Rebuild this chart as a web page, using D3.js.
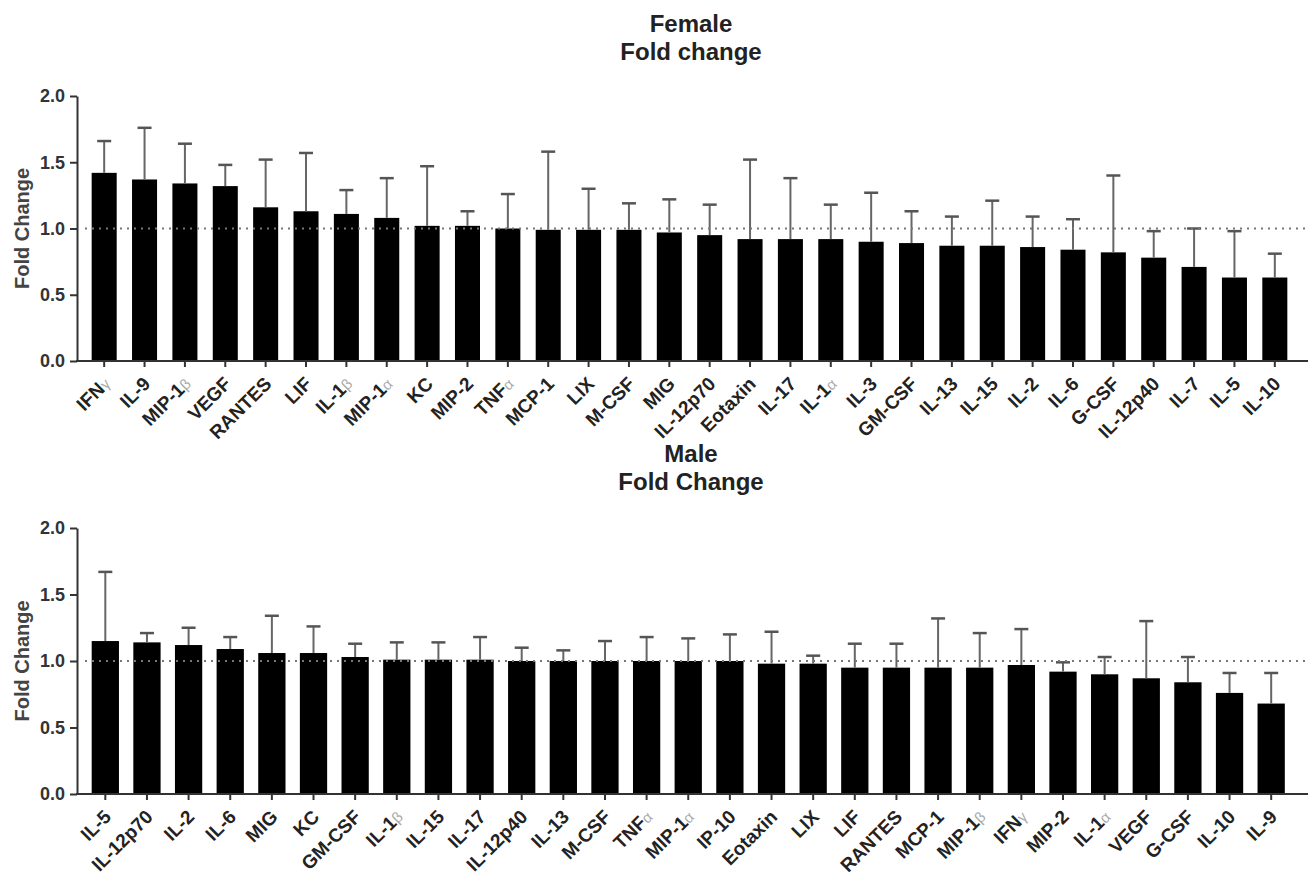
<!DOCTYPE html>
<html>
<head>
<meta charset="utf-8">
<script src="https://cdn.jsdelivr.net/npm/d3@7"></script>
<style>
  body { margin: 0; background: #fff; }
  svg text { font-family: "Liberation Sans", Arial, sans-serif; }
</style>
</head>
<body>
<svg id="chart" width="1314" height="876"></svg>
<script>
"use strict";
// female panel
const femaleNames = ['IFNγ','IL-9','MIP-1β','VEGF','RANTES','LIF','IL-1β','MIP-1α','KC','MIP-2',
  'TNFα','MCP-1','LIX','M-CSF','MIG','IL-12p70','Eotaxin','IL-17','IL-1α','IL-3',
  'GM-CSF','IL-13','IL-15','IL-2','IL-6','G-CSF','IL-12p40','IL-7','IL-5','IL-10'];
const femaleMean = [1.42,1.37,1.34,1.32,1.16,1.13,1.11,1.08,1.02,1.02,
  1.00,0.99,0.99,0.99,0.97,0.95,0.92,0.92,0.92,0.90,
  0.89,0.87,0.87,0.86,0.84,0.82,0.78,0.71,0.63,0.63];
const femaleUpper = [1.66,1.76,1.64,1.48,1.52,1.57,1.29,1.38,1.47,1.13,
  1.26,1.58,1.30,1.19,1.22,1.18,1.52,1.38,1.18,1.27,
  1.13,1.09,1.21,1.09,1.07,1.40,0.98,1.00,0.98,0.81];

// male panel
const maleNames = ['IL-5','IL-12p70','IL-2','IL-6','MIG','KC','GM-CSF','IL-1β','IL-15','IL-17',
  'IL-12p40','IL-13','M-CSF','TNFα','MIP-1α','IP-10','Eotaxin','LIX','LIF','RANTES',
  'MCP-1','MIP-1β','IFNγ','MIP-2','IL-1α','VEGF','G-CSF','IL-10','IL-9'];
const maleMean = [1.15,1.14,1.12,1.09,1.06,1.06,1.03,1.01,1.01,1.01,
  1.00,1.00,1.00,1.00,1.00,1.00,0.98,0.98,0.95,0.95,
  0.95,0.95,0.97,0.92,0.90,0.87,0.84,0.76,0.68];
const maleUpper = [1.67,1.21,1.25,1.18,1.34,1.26,1.13,1.14,1.14,1.18,
  1.10,1.08,1.15,1.18,1.17,1.20,1.22,1.04,1.13,1.13,
  1.32,1.21,1.24,0.99,1.03,1.30,1.03,0.91,0.91];

const yTicks = [0, 0.5, 1.0, 1.5, 2.0];

const svg = d3.select('#chart');
const axisColor = '#333';
const greek = /[αβγ]$/;

function drawPanel(opt) {
  const g = svg.append('g');
  const y = d3.scaleLinear().domain([0, 2]).range([opt.bottom, opt.top]);
  const x = d3.scaleBand().domain(opt.names).range(opt.xRange)
    .paddingInner(opt.pad).paddingOuter(opt.pad / 2);

  //titles
  opt.title.forEach((t, i) => {
    g.append('text')
      .attr('x', 691).attr('y', opt.titleY + i * 28)
      .attr('text-anchor', 'middle')
      .style('font-size', '24px').style('font-weight', 'bold').style('fill', '#222')
      .text(t);
  });

  //y axis title
  g.append('text')
    .attr('transform', `translate(29,${(opt.top + opt.bottom) / 2}) rotate(-90)`)
    .attr('text-anchor', 'middle')
    .style('font-size', '20px').style('font-weight', 'bold').style('fill', '#444')
    .text('Fold Change');

  //bars
  const data = opt.names.map((n, i) => ({ name: n, mean: opt.mean[i], upper: opt.upper[i] }));
  g.selectAll('rect.bar').data(data).enter().append('rect')
    .attr('class', 'bar')
    .attr('x', d => x(d.name))
    .attr('width', x.bandwidth())
    .attr('y', d => y(d.mean))
    .attr('height', d => y(0) - y(d.mean))
    .style('fill', '#000');

  //error bars (upper only)
  const err = g.selectAll('g.err').data(data).enter().append('g').attr('class', 'err')
    .attr('transform', d => `translate(${x(d.name) + x.bandwidth() / 2},0)`);
  err.append('line')
    .attr('y1', d => y(d.mean)).attr('y2', d => y(d.upper))
    .style('stroke', '#666').style('stroke-width', 2);
  err.append('line')
    .attr('x1', -7).attr('x2', 7)
    .attr('y1', d => y(d.upper)).attr('y2', d => y(d.upper))
    .style('stroke', '#555').style('stroke-width', 2.5);

  //reference line at 1.0
  g.append('line')
    .attr('x1', 85).attr('x2', 1306)
    .attr('y1', y(1)).attr('y2', y(1))
    .style('stroke', '#777').style('stroke-width', 2)
    .style('stroke-dasharray', '2,5');

  //y axis
  const ya = g.append('g').attr('transform', 'translate(77,0)')
    .call(d3.axisLeft(y).tickValues(yTicks).tickFormat(d3.format('.1f')).tickSize(7).tickSizeOuter(0).tickPadding(5));
  ya.select('.domain').style('stroke', axisColor).style('stroke-width', 2);
  ya.selectAll('.tick line').style('stroke', axisColor).style('stroke-width', 2);
  ya.selectAll('text').style('font-size', '18px').style('font-weight', 'bold').style('fill', '#333');

  //x axis
  const xa = g.append('g').attr('transform', `translate(0,${opt.bottom})`)
    .call(d3.axisBottom(x).tickSize(6).tickSizeOuter(0));
  xa.select('.domain').remove();
  xa.selectAll('.tick line').style('stroke', axisColor).style('stroke-width', 2);
  xa.selectAll('text')
    .attr('y', null).attr('dy', null)
    .attr('transform', 'translate(7,24) rotate(-45)')
    .attr('text-anchor', 'end')
    .style('font-size', '19px').style('font-weight', 'bold').style('fill', '#222')
    .each(function (d) {
      const t = d3.select(this).text('');
      if (greek.test(d)) {
        t.append('tspan').text(d.slice(0, -1));
        t.append('tspan').text(d.slice(-1))
          .style('font-weight', 'normal').style('fill', '#aaa').style('font-size', '15px');
      } else {
        t.text(d);
      }
    });
  g.append('line')
    .attr('x1', 76).attr('x2', 1308)
    .attr('y1', opt.bottom).attr('y2', opt.bottom)
    .style('stroke', axisColor).style('stroke-width', 2);
}

drawPanel({
  names: femaleNames, mean: femaleMean, upper: femaleUpper,
  top: 96, bottom: 361, xRange: [84, 1295], pad: 0.38,
  title: ['Female', 'Fold change'], titleY: 32
});
drawPanel({
  names: maleNames, mean: maleMean, upper: maleUpper,
  top: 528, bottom: 794, xRange: [84.5, 1292], pad: 0.345,
  title: ['Male', 'Fold Change'], titleY: 462
});
</script>
</body>
</html>
